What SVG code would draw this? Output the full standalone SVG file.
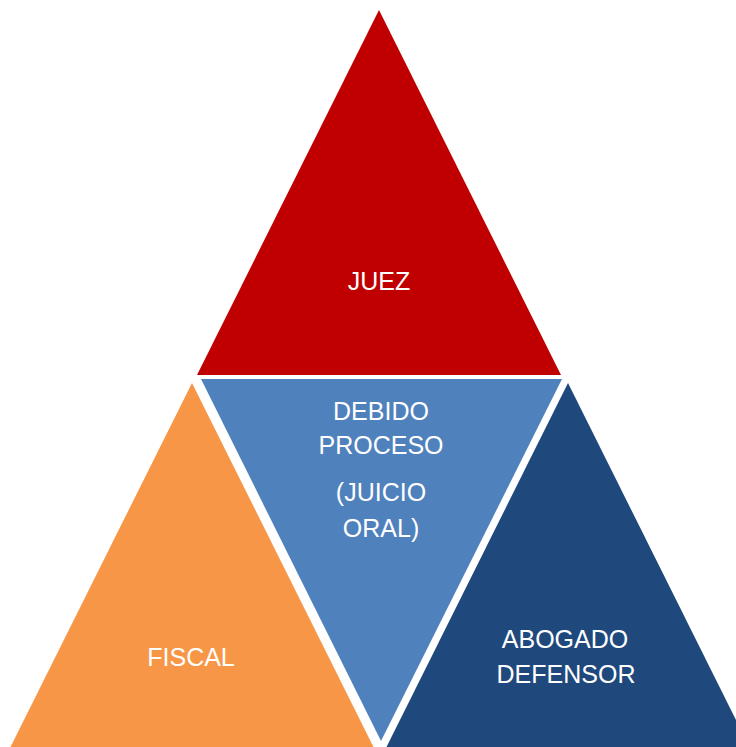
<svg xmlns="http://www.w3.org/2000/svg" width="736" height="747" viewBox="0 0 736 747">
<style>
.t{font-family:"Liberation Sans",Arial,sans-serif;font-size:25px;fill:#fff;text-anchor:middle}
</style>
<rect width="736" height="747" fill="#fff"/>
<g id="juez">
<polygon points="379,10 197,375 561,375" fill="#C00000"/>
<text class="t" x="379" y="290">JUEZ</text>
</g>
<g id="debido-proceso">
<polygon points="201,379 562,379 381,741" fill="#4F81BD"/>
<text class="t" x="381" y="420">DEBIDO</text>
<text class="t" x="381" y="454">PROCESO</text>
<text class="t" x="381" y="501">(JUICIO</text>
<text class="t" x="381" y="537">ORAL)</text>
</g>
<g id="fiscal">
<polygon points="192,383 9,750 375,750" fill="#F79646"/>
<text class="t" x="191" y="666">FISCAL</text>
</g>
<g id="abogado-defensor">
<polygon points="568,383 385,750 751,750" fill="#1F497D"/>
<text class="t" x="565" y="648">ABOGADO</text>
<text class="t" x="566" y="683">DEFENSOR</text>
</g>
<g id="connectors"/>
</svg>
